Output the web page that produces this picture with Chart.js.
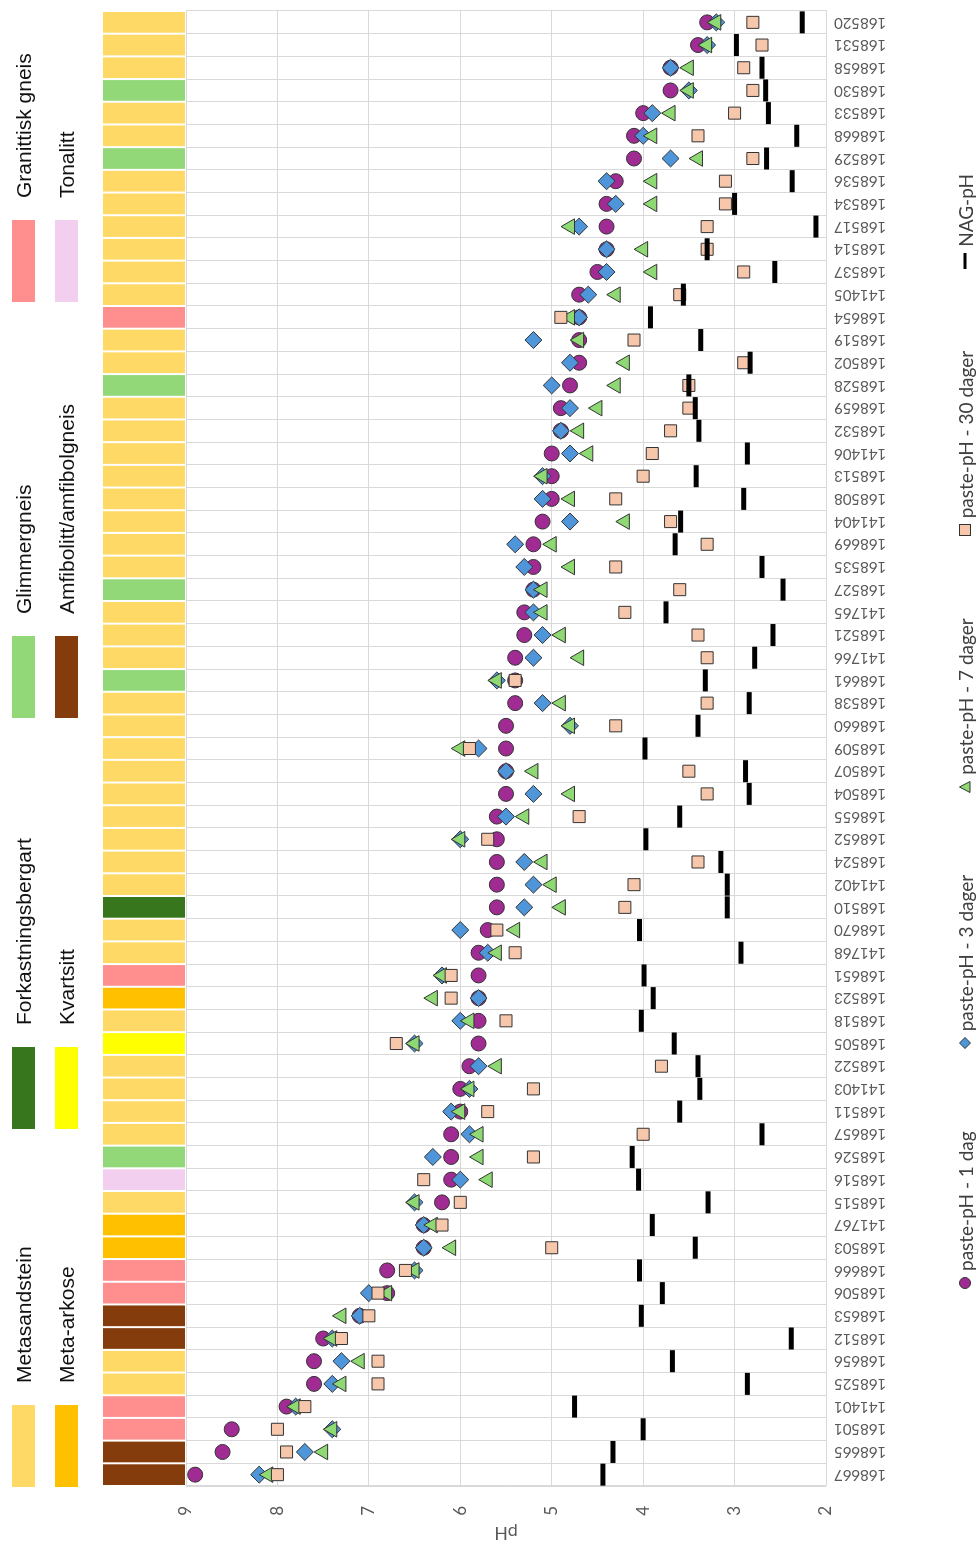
<!DOCTYPE html>
<html>
<head>
<meta charset="utf-8">
<title>paste-pH og NAG-pH</title>
<script src="https://cdn.jsdelivr.net/npm/chart.js@4.4.1/dist/chart.umd.min.js"></script>
<style>
  html, body { margin: 0; padding: 0; background: #fff; overflow: hidden; }
  /* the chart is drawn landscape and then turned a quarter turn to the left */
  #wrap {
    position: absolute; left: 0; top: 0;
    width: 1544px; height: 978px;
    transform-origin: 0 0;
    transform: translate(0, 1544px) rotate(-90deg);
  }
  #chart { position: absolute; left: 0; top: 0; }
  #rocks {
    position: absolute; left: 0; top: 12px; width: 1544px; height: 70px;
    font: 21px "Liberation Sans", Arial, sans-serif; color: #111;
  }
  #rocks .col { position: absolute; top: 0; display: flex; flex-direction: column; gap: 20px; }
  #rocks .col:nth-child(1) { left: 57px; }
  #rocks .col:nth-child(2) { left: 415px; }
  #rocks .col:nth-child(3) { left: 826px; }
  #rocks .col:nth-child(4) { left: 1242px; }
  #rocks .item { display: flex; align-items: center; height: 23px; white-space: nowrap; }
  #rocks .sw { width: 82px; height: 23px; margin-right: 22px; }
  #legend {
    position: absolute; left: 255px; top: 954px;
    display: flex; gap: 82px;
    font: 19px Lato, sans-serif; color: #404040;
  }
  #legend .item { display: flex; align-items: center; white-space: nowrap; height: 22px; }
  #legend svg { margin-right: 6px; }
</style>
</head>
<body>
<div id="wrap">
  <canvas id="chart" width="1544" height="978"></canvas>
  <div id="rocks"></div>
  <div id="legend"></div>
</div>

<script>
// sample ids, left to right before the chart is turned
const samples = ['168667','168665','168501','141401','168525','168656','168512','168653','168506','168666',
  '168503','141767','168515','168516','168526','168657','168511','141403','168522','168505',
  '168518','168523','168651','141768','168670','168510','141402','168524','168652','168655',
  '168504','168507','168509','168660','168538','168661','141766','168521','141765','168527',
  '168535','168669','141404','168508','168513','141406','168532','168659','168528','168502',
  '168519','168654','141405','168537','168514','168517','168534','168536','168529','168668',
  '168533','168530','168658','168531','168520'];

// rock types and their colours
const rockTypes = ['Metasandstein','Meta-arkose','Forkastningsbergart','Kvartsitt',
  'Glimmergneis','Amfibolitt/amfibolgneis','Granittisk gneis','Tonalitt'];
const rockColors = ['#FFD966','#FFC000','#38761D','#FFFF00','#92D878','#843C0C','#FF8F8F','#F2CEEF'];

// rock type of every sample (index into rockTypes)
const sampleRock = [5,5,6,6,0,0,5,5,6,6,
  1,1,0,7,4,0,0,0,0,3,
  0,1,6,0,0,2,0,0,0,0,
  0,0,0,0,0,4,0,0,0,4,
  0,0,0,0,0,0,0,0,4,0,
  0,6,0,0,0,0,0,0,4,0,
  0,4,0,0,0];

// pH values
const ph1 = [8.9,8.6,8.5,7.9,7.6,7.6,7.5,7.1,6.8,6.8,
  6.4,6.4,6.2,6.1,6.1,6.1,6.0,6.0,5.9,5.8,
  5.8,5.8,5.8,5.8,5.7,5.6,5.6,5.6,5.6,5.6,
  5.5,5.5,5.5,5.5,5.4,5.4,5.4,5.3,5.3,5.2,
  5.2,5.2,5.1,5.0,5.0,5.0,4.9,4.9,4.8,4.7,
  4.7,4.7,4.7,4.5,4.4,4.4,4.4,4.3,4.1,4.1,
  4.0,3.7,3.7,3.4,3.3];
const ph3 = [8.2,7.7,7.4,7.8,7.4,7.3,7.4,7.1,7.0,6.5,
  6.4,6.4,6.5,6.0,6.3,5.9,6.1,5.9,5.8,6.5,
  6.0,5.8,6.2,5.7,6.0,5.3,5.2,5.3,6.0,5.5,
  5.2,5.5,5.8,4.8,5.1,5.6,5.2,5.1,5.2,5.2,
  5.3,5.4,4.8,5.1,5.1,4.8,4.9,4.8,5.0,4.8,
  5.2,4.7,4.6,4.4,4.4,4.7,4.3,4.4,3.7,4.0,
  3.9,3.5,3.7,3.3,3.2];
const ph7 = [8.1,7.5,7.4,7.8,7.3,7.1,7.4,7.3,6.8,6.5,
  6.1,6.3,6.5,5.7,5.8,5.8,6.0,5.9,5.6,6.5,
  5.9,6.3,6.2,5.6,5.4,4.9,5.0,5.1,6.0,5.3,
  4.8,5.2,6.0,4.8,4.9,5.6,4.7,4.9,5.1,5.1,
  4.8,5.0,4.2,4.8,5.1,4.6,4.7,4.5,4.3,4.2,
  4.7,4.8,4.3,3.9,4.0,4.8,3.9,3.9,3.4,3.9,
  3.7,3.5,3.5,3.3,3.2];
const ph30 = [8.0,7.9,8.0,7.7,6.9,6.9,7.3,7.0,6.9,6.6,
  5.0,6.2,6.0,6.4,5.2,4.0,5.7,5.2,3.8,6.7,
  5.5,6.1,6.1,5.4,5.6,4.2,4.1,3.4,5.7,4.7,
  3.3,3.5,5.9,4.3,3.3,5.4,3.3,3.4,4.2,3.6,
  4.3,3.3,3.7,4.3,4.0,3.9,3.7,3.5,3.5,2.9,
  4.1,4.9,3.6,2.9,3.3,3.3,3.1,3.1,2.8,3.4,
  3.0,2.8,2.9,2.7,2.8];
const nagPh = [4.44,4.33,4.00,4.75,2.86,3.68,2.38,4.02,3.79,4.04,
  3.43,3.90,3.29,4.05,4.12,2.70,3.60,3.38,3.40,3.66,
  4.02,3.89,3.99,2.93,4.04,3.08,3.08,3.15,3.97,3.60,
  2.84,2.88,3.98,3.40,2.84,3.32,2.78,2.58,3.75,2.47,
  2.70,3.65,3.59,2.90,3.42,2.86,3.39,3.43,3.50,2.83,
  3.37,3.92,3.56,2.56,3.30,2.11,3.00,2.37,2.65,2.32,
  2.63,2.66,2.70,2.98,2.26];

const seriesNames = ['paste-pH - 1 dag','paste-pH - 3 dager','paste-pH - 7 dager','paste-pH - 30 dager','NAG-pH'];
const yMin = 2, yMax = 9;

// marker look for each series
const styles = [
  {pointStyle: 'circle',   bg: '#A02B93', border: '#333', bw: 1, r: 7.5, order: 5},
  {pointStyle: 'rectRot',  bg: '#4E95D9', border: '#333', bw: 1, r: 8.5, order: 4},
  {pointStyle: 'triangle', bg: '#8ED973', border: '#333', bw: 1, r: 9,   order: 3},
  {pointStyle: 'rect',     bg: '#F7C7AC', border: '#333', bw: 1, r: 8.5, order: 2},
  {pointStyle: 'line',     bg: '#000',    border: '#000', bw: 5, r: 11,  order: 1}
];
const seriesData = [ph1, ph3, ph7, ph30, nagPh];

// coloured strip with the rock type above the plot
const rockStrip = {
  id: 'rockStrip',
  beforeDatasetsDraw(chart) {
    const {ctx, chartArea} = chart;
    const x = chart.scales.x;
    const half = (x.getPixelForValue(1) - x.getPixelForValue(0)) / 2;
    ctx.save();
    sampleRock.forEach((r, i) => {
      const c = x.getPixelForValue(i);
      ctx.fillStyle = rockColors[r];
      ctx.fillRect(c - half + 1, chartArea.top - 83, 2 * half - 2, 82);
    });
    ctx.restore();
  }
};

new Chart(document.getElementById('chart'), {
  type: 'line',
  data: {
    labels: samples,
    datasets: seriesData.map((d, k) => ({
      label: seriesNames[k],
      data: d,
      showLine: false,
      order: styles[k].order,
      pointStyle: styles[k].pointStyle,
      pointRadius: styles[k].r,
      pointHoverRadius: styles[k].r,
      pointBackgroundColor: styles[k].bg,
      pointBorderColor: styles[k].border,
      pointBorderWidth: styles[k].bw,
      backgroundColor: styles[k].bg,
      borderColor: styles[k].border,
      clip: false
    }))
  },
  options: {
    responsive: false,
    animation: false,
    devicePixelRatio: 1,
    layout: { autoPadding: false, padding: { top: 186, right: 11, bottom: 0, left: 0 } },
    plugins: {
      legend: { display: false },
      tooltip: { enabled: false }
    },
    scales: {
      x: {
        type: 'category',
        offset: true,
        grid: { offset: true, color: '#D9D9D9', drawTicks: false },
        border: { color: '#D9D9D9' },
        ticks: {
          autoSkip: false, minRotation: 90, maxRotation: 90, padding: 8,
          color: '#595959', font: { family: 'Lato', size: 15 }
        },
        afterFit(scale) {
          scale.height = 152;
          // no extra room for the outer rotated labels
          scale.paddingLeft = 0;
          scale.paddingRight = 0;
        }
      },
      y: {
        min: yMin, max: yMax,
        grid: { color: '#D9D9D9', drawTicks: false },
        border: { color: '#D9D9D9' },
        ticks: { stepSize: 1, padding: 20, color: '#595959', font: { family: 'Lato', size: 17 } },
        title: { display: true, text: 'pH', color: '#595959', font: { family: 'Lato', size: 18 }, padding: 0 },
        afterFit(scale) { scale.width = 58; }
      }
    }
  },
  plugins: [rockStrip]
});

// rock type legend: two rows, four columns
const rocks = document.getElementById('rocks');
for (let c = 0; c < 4; c++) {
  const col = document.createElement('div');
  col.className = 'col';
  [c, c + 4].map(i => [0,2,4,6,1,3,5,7][i]).forEach(i => {
    const it = document.createElement('div');
    it.className = 'item';
    it.innerHTML = '<span class="sw" style="background:' + rockColors[i] + '"></span>' + rockTypes[i];
    col.appendChild(it);
  });
  rocks.appendChild(col);
}

// series legend
const markers = [
  '<svg width="12" height="12"><circle cx="6" cy="6" r="5.5" fill="#A02B93" stroke="#333"/></svg>',
  '<svg width="12" height="12"><polygon points="6,0.5 11.5,6 6,11.5 0.5,6" fill="#4E95D9" stroke="#333"/></svg>',
  '<svg width="12" height="12"><polygon points="6,0.5 11.5,11 0.5,11" fill="#8ED973" stroke="#333"/></svg>',
  '<svg width="12" height="12"><rect x="0.5" y="0.5" width="11" height="11" fill="#F7C7AC" stroke="#333"/></svg>',
  '<svg width="16" height="12"><line x1="0" y1="6" x2="16" y2="6" stroke="#000" stroke-width="3"/></svg>'
];
const legend = document.getElementById('legend');
seriesNames.forEach((n, k) => {
  const it = document.createElement('div');
  it.className = 'item';
  it.innerHTML = markers[k] + n;
  legend.appendChild(it);
});
</script>
</body>
</html>
